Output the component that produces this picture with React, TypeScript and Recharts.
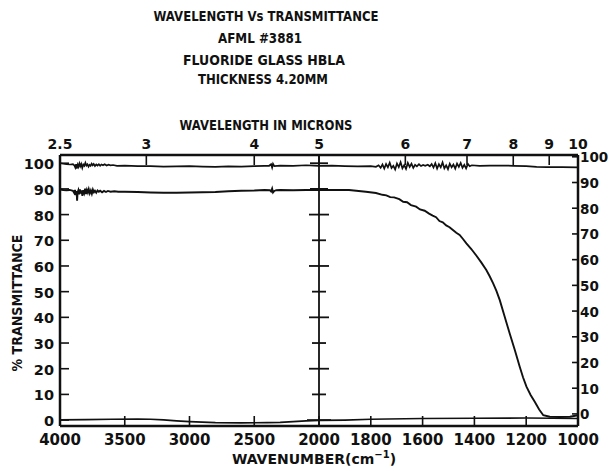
import React from 'react';
import { LineChart, Line, XAxis, YAxis, ReferenceLine, ReferenceDot } from 'recharts';

const W = 609;
const H = 471;
const FONT = '"DejaVu Sans", "Liberation Sans", sans-serif';
const INK = '#111';

// Axis ticks
const wavenumberTicks = [4000, 3500, 3000, 2500, 2000, 1800, 1600, 1400, 1200, 1000];
const micronTicks = [2.5, 3, 4, 5, 6, 7, 8, 9, 10];
const percentTicks = [0, 10, 20, 30, 40, 50, 60, 70, 80, 90, 100];

// Left (% transmittance) and right (overlay) scales of the chart paper
const leftDomain: [number, number] = [-2.3, 103.2];
const rightDomain: [number, number] = [-4.7, 100.7];

// 100% line (open beam)
const referenceWavenumbers = [
  4000, 3975, 3950, 3920, 3900, 3890, 3882, 3876, 3870, 3863, 3857, 3850, 3843, 3836, 3828, 3820,
  3812, 3804, 3796, 3788, 3780, 3772, 3764, 3756, 3748, 3740, 3730, 3720, 3710, 3700, 3690, 3680,
  3668, 3655, 3640, 3625, 3610, 3590, 3560, 3500, 3400, 3300, 3200, 3100, 3000, 2900, 2800, 2700,
  2600, 2500, 2420, 2385, 2370, 2362, 2355, 2345, 2300, 2200, 2100, 2040, 2000, 1950, 1900, 1850,
  1800, 1780, 1770, 1762, 1755, 1748, 1741, 1734, 1727, 1720, 1713, 1706, 1699, 1692, 1685, 1678,
  1671, 1664, 1657, 1650, 1643, 1636, 1629, 1622, 1614, 1606, 1598, 1590, 1580, 1572, 1565, 1558,
  1551, 1544, 1537, 1530, 1523, 1516, 1509, 1502, 1495, 1488, 1481, 1474, 1467, 1460, 1453, 1446,
  1439, 1432, 1425, 1418, 1410, 1380, 1340, 1300, 1250, 1200, 1160, 1120, 1060, 1000,
];
const referenceTransmittance = [
  100.0, 99.8, 99.6, 99.5, 99.6, 99.2, 98.3, 99.6, 97.9, 99.4, 98.6, 99.9, 98.8, 99.7, 98.2, 99.5,
  99.0, 100.2, 99.1, 99.6, 98.7, 99.4, 99.0, 99.8, 99.2, 99.7, 98.9, 99.5, 99.1, 99.6, 99.0, 99.5,
  99.2, 99.6, 99.1, 99.4, 99.2, 99.3, 99.0, 99.1, 98.9, 98.9, 98.7, 98.8, 98.9, 98.7, 98.6, 98.8,
  98.7, 98.9, 99.0, 99.0, 99.6, 98.3, 99.8, 98.9, 99.1, 99.0, 99.2, 99.1, 99.0, 99.1, 98.9, 98.8,
  98.9, 98.6, 99.2, 98.2, 99.5, 97.9, 99.7, 98.4, 100.2, 98.1, 99.0, 97.6, 99.9, 98.5, 100.4, 98.0,
  99.3, 97.8, 100.1, 98.6, 99.8, 98.2, 99.4, 98.8, 99.6, 98.9, 99.3, 99.0, 99.4, 98.8, 99.7, 98.3,
  100.0, 97.9, 99.6, 98.4, 100.3, 98.0, 99.2, 97.7, 99.8, 98.4, 99.5, 97.9, 99.9, 98.6, 100.1, 98.2,
  99.4, 98.0, 99.7, 98.8, 99.2, 99.0, 99.1, 99.1, 99.0, 98.9, 98.6, 98.5, 98.5, 98.4,
];

// Sample: fluoride glass HBLA, 4.20 mm
const sampleWavenumbers = [
  4000, 3975, 3950, 3925, 3900, 3890, 3884, 3878, 3872, 3868, 3864, 3858, 3852, 3846, 3840, 3834,
  3827, 3820, 3813, 3806, 3799, 3792, 3785, 3778, 3770, 3762, 3754, 3746, 3738, 3730, 3720, 3710,
  3700, 3690, 3675, 3660, 3645, 3630, 3610, 3580, 3550, 3500, 3400, 3300, 3200, 3100, 3000, 2900,
  2800, 2700, 2600, 2500, 2420, 2380, 2370, 2362, 2355, 2345, 2330, 2300, 2200, 2100, 2000, 1950,
  1884, 1819, 1780, 1755, 1740, 1725, 1710, 1690, 1675, 1660, 1645, 1625, 1610, 1592, 1575, 1561,
  1548, 1535, 1522, 1509, 1496, 1483, 1470, 1457, 1444, 1431, 1412, 1392, 1373, 1354, 1341, 1328,
  1315, 1302, 1283, 1264, 1244, 1225, 1212, 1199, 1183, 1167, 1150, 1134, 1109, 1070, 1031, 1000,
];
const sampleTransmittance = [
  89.8, 89.6, 89.5, 89.6, 89.3, 88.4, 89.6, 87.6, 89.2, 85.4, 88.6, 89.5, 87.9, 89.8, 88.2, 89.4,
  87.3, 89.5, 88.4, 90.1, 88.0, 89.6, 88.6, 89.9, 88.3, 89.4, 88.1, 89.7, 88.7, 89.3, 88.5, 89.4,
  88.9, 89.3, 88.7, 89.2, 88.8, 89.2, 88.9, 89.1, 88.9, 88.9, 88.8, 88.6, 88.5, 88.5, 88.6, 88.7,
  88.8, 89.1, 89.3, 89.4, 89.6, 89.5, 89.0, 90.1, 88.6, 89.2, 89.5, 89.6, 89.5, 89.6, 89.6, 89.6,
  89.6, 88.9, 88.4, 87.7, 87.5, 86.8, 86.7, 86.0, 85.0, 84.8, 83.7, 83.1, 82.0, 81.5, 80.4, 79.6,
  79.0, 77.5, 77.0, 75.8, 75.1, 74.0, 72.9, 72.1, 70.5, 68.8, 66.6, 64.0, 61.3, 58.4, 56.0, 53.3,
  50.3, 46.7, 40.2, 33.8, 27.3, 20.8, 16.6, 13.0, 9.8, 7.1, 4.1, 1.9, 1.3, 1.2, 1.3, 1.9,
];

// 0% line (blocked beam)
const zeroWavenumbers = [
  4000, 3800, 3600, 3400, 3300, 3200, 3100, 3000, 2900, 2800, 2600, 2400, 2300, 2200, 2100, 2000,
  1900, 1800, 1600, 1400, 1200, 1100, 1000,
];
const zeroTransmittance = [
  0.1, 0.2, 0.3, 0.4, 0.3, 0.1, -0.3, -0.6, -0.8, -1.0, -1.1, -1.0, -0.9, -0.6, -0.3, -0.1,
  0.0, 0.3, 0.6, 0.7, 0.8, 0.7, 0.6,
];

// Chart paper: 4000–2000 cm-1 and 2000–1000 cm-1 each fill half of the width.
const toPaper = (wn: number) => (wn >= 2000 ? (4000 - wn) / 2000 : 1 + (2000 - wn) / 1000);
const fromPaper = (p: number) => (p <= 1 ? 4000 - 2000 * p : 2000 - 1000 * (p - 1));

const buildSeries = (wns: number[], ts: number[]) =>
  wns.map((wn, i) => ({ pos: toPaper(wn), t: ts[i] }));

const referenceSeries = buildSeries(referenceWavenumbers, referenceTransmittance);
const sampleSeries = buildSeries(sampleWavenumbers, sampleTransmittance);
const zeroSeries = buildSeries(zeroWavenumbers, zeroTransmittance);

const bottomTickPos = wavenumberTicks.map(toPaper);
const topTickPos = micronTicks.map((m) => toPaper(10000 / m));

const tickText = {
  fontFamily: FONT,
  fontWeight: 700,
  fill: INK,
} as const;

const BottomTick = (props: any) => {
  const { x, y, payload } = props;
  const wn = Math.round(fromPaper(payload.value));
  return (
    <g>
      <line x1={x} x2={x} y1={y} y2={y - 10} stroke={INK} strokeWidth={1.6} />
      <text x={x} y={y + 19} textAnchor="middle" fontSize={15} {...tickText}>
        {wn}
      </text>
    </g>
  );
};

const TopTick = (props: any) => {
  const { x, y, payload } = props;
  const um = Math.round((10000 / fromPaper(payload.value)) * 10) / 10;
  return (
    <g>
      <line x1={x} x2={x} y1={y} y2={y + 10} stroke={INK} strokeWidth={1.6} />
      <text x={x} y={y - 6} textAnchor="middle" fontSize={14} {...tickText}>
        {String(um)}
      </text>
    </g>
  );
};

const LeftTick = (props: any) => {
  const { x, y, payload } = props;
  return (
    <g>
      <line x1={x} x2={x + 9} y1={y} y2={y} stroke={INK} strokeWidth={1.6} />
      <text x={x - 6} y={y + 6} textAnchor="end" fontSize={14.5} {...tickText}>
        {payload.value}
      </text>
    </g>
  );
};

const RightTick = (props: any) => {
  const { x, y, payload } = props;
  return (
    <g>
      <line x1={x} x2={x - 6} y1={y} y2={y} stroke={INK} strokeWidth={1.6} />
      <text x={x + 2} y={y + 5.5} textAnchor="start" fontSize={13.5} {...tickText}>
        {payload.value}
      </text>
    </g>
  );
};

// Cross marks along the 2000 cm-1 scale-change line
const dividerMarks = percentTicks.map((v) => ({ v, half: v === 0 ? 12 : v >= 90 ? 9 : v % 20 === 0 ? 10 : 7 }));

const titleLines = [
  { text: 'WAVELENGTH Vs TRANSMITTANCE', x: 266, y: 21, len: 225 },
  { text: 'AFML #3881', x: 260, y: 43, len: 84 },
  { text: 'FLUORIDE GLASS HBLA', x: 264, y: 65, len: 162 },
  { text: 'THICKNESS 4.20MM', x: 263, y: 84, len: 130 },
  { text: 'WAVELENGTH IN MICRONS', x: 266, y: 130, len: 173 },
];

export default function App() {
  return (
    <div style={{ position: 'absolute', left: 0, top: 0, width: W, height: H, background: '#fff' }}>
      <LineChart
        width={W}
        height={H}
        margin={{ top: 125, right: 0, bottom: 0, left: 0 }}
      >
        <XAxis
          xAxisId="bottom"
          type="number"
          dataKey="pos"
          domain={[0, 2]}
          allowDataOverflow
          ticks={bottomTickPos}
          interval={0}
          height={45}
          tickSize={0}
          tickMargin={0}
          tickLine={false}
          axisLine={{ stroke: INK, strokeWidth: 2.5 }}
          tick={<BottomTick />}
        />
        <XAxis
          xAxisId="top"
          orientation="top"
          type="number"
          dataKey="pos"
          domain={[0, 2]}
          allowDataOverflow
          ticks={topTickPos}
          interval={0}
          height={30}
          tickSize={0}
          tickMargin={0}
          tickLine={false}
          axisLine={{ stroke: INK, strokeWidth: 2.5 }}
          tick={<TopTick />}
        />
        <YAxis
          yAxisId="left"
          type="number"
          domain={leftDomain}
          allowDataOverflow
          ticks={percentTicks}
          interval={0}
          width={60}
          tickSize={0}
          tickMargin={0}
          tickLine={false}
          axisLine={{ stroke: INK, strokeWidth: 2.5 }}
          tick={<LeftTick />}
        />
        <YAxis
          yAxisId="right"
          orientation="right"
          type="number"
          domain={rightDomain}
          allowDataOverflow
          ticks={percentTicks}
          interval={0}
          width={31}
          tickSize={0}
          tickMargin={0}
          tickLine={false}
          axisLine={{ stroke: INK, strokeWidth: 2.5 }}
          tick={<RightTick />}
        />

        <ReferenceLine xAxisId="bottom" yAxisId="left" x={1} stroke={INK} strokeWidth={1.8} />
        {dividerMarks.map((m) => (
          <ReferenceDot
            key={m.v}
            xAxisId="bottom"
            yAxisId="left"
            x={1}
            y={m.v}
            r={0}
            shape={(p: any) => (
              <line x1={p.cx - m.half} x2={p.cx + m.half} y1={p.cy} y2={p.cy} stroke={INK} strokeWidth={1.8} />
            )}
          />
        ))}

        <Line
          xAxisId="bottom"
          yAxisId="left"
          data={zeroSeries}
          dataKey="t"
          type="linear"
          dot={false}
          stroke={INK}
          strokeWidth={1.6}
          isAnimationActive={false}
        />
        <Line
          xAxisId="bottom"
          yAxisId="left"
          data={referenceSeries}
          dataKey="t"
          type="linear"
          dot={false}
          stroke={INK}
          strokeWidth={1.7}
          isAnimationActive={false}
        />
        <Line
          xAxisId="bottom"
          yAxisId="left"
          data={sampleSeries}
          dataKey="t"
          type="linear"
          dot={false}
          stroke={INK}
          strokeWidth={1.9}
          isAnimationActive={false}
        />
      </LineChart>

      <svg
        width={W}
        height={H}
        style={{ position: 'absolute', left: 0, top: 0, pointerEvents: 'none' }}
      >
        {titleLines.map((l) => (
          <text
            key={l.text}
            x={l.x}
            y={l.y}
            textAnchor="middle"
            fontSize={14}
            textLength={l.len}
            lengthAdjust="spacingAndGlyphs"
            {...tickText}
          >
            {l.text}
          </text>
        ))}
        <text x={314} y={464} textAnchor="middle" fontSize={14} {...tickText}>
          WAVENUMBER(cm
          <tspan dy={-6} fontSize={10}>
            −1
          </tspan>
          <tspan dy={6}>)</tspan>
        </text>
        <text
          transform="translate(22,303) rotate(-90)"
          textAnchor="middle"
          fontSize={14}
          textLength={137}
          lengthAdjust="spacingAndGlyphs"
          {...tickText}
        >
          % TRANSMITTANCE
        </text>
      </svg>
    </div>
  );
}
